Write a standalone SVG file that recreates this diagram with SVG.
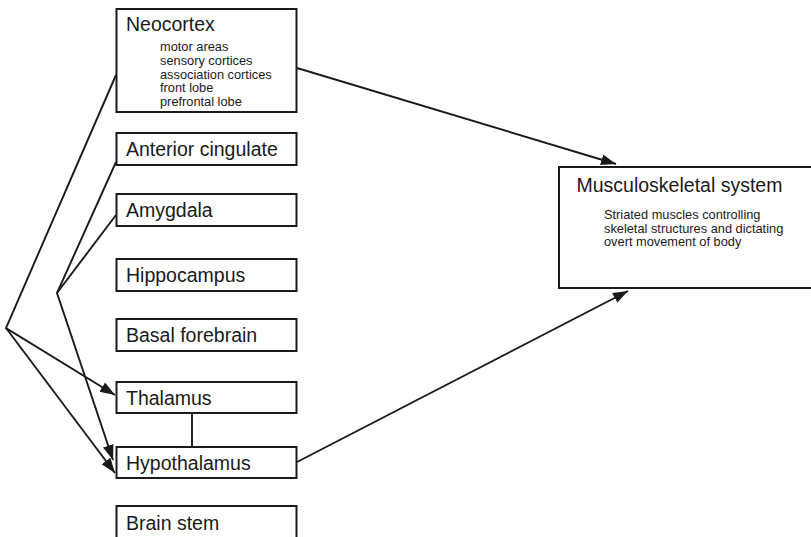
<svg xmlns="http://www.w3.org/2000/svg" width="811" height="537" viewBox="0 0 811 537">
  <style>
    .box { fill: #fff; stroke: #1a1a1a; stroke-width: 2; }
    .title { font-family: "Liberation Sans", Arial, sans-serif; font-size: 19.5px; fill: #1a1a1a; }
    .sub { font-family: "Liberation Sans", Arial, sans-serif; font-size: 12.8px; fill: #1a1a1a; }
    .link { fill: none; stroke: #1a1a1a; stroke-width: 1.9; }
  </style>
  <defs>
    <marker id="arrow" markerUnits="userSpaceOnUse" markerWidth="16" markerHeight="12" refX="15" refY="5.5" orient="auto">
      <path d="M0,0 L15,5.5 L0,11 z" fill="#1a1a1a"/>
    </marker>
  </defs>
  <rect width="811" height="537" fill="#fff"/>

  <!-- connectors -->
  <g id="connectors">
    <polyline class="link" points="116,75 6,328 115,395" marker-end="url(#arrow)"/>
    <line class="link" x1="6" y1="328" x2="115" y2="473" marker-end="url(#arrow)"/>
    <polyline class="link" points="116,162 57,293 113,460" marker-end="url(#arrow)"/>
    <line class="link" x1="116" y1="215" x2="57" y2="293"/>
    <line class="link" x1="192" y1="413" x2="192" y2="447"/>
    <line class="link" x1="297" y1="68" x2="616" y2="164" marker-end="url(#arrow)"/>
    <line class="link" x1="297" y1="462" x2="628" y2="291" marker-end="url(#arrow)"/>
  </g>

  <g id="neocortex">
    <rect class="box" x="116.5" y="9" width="180" height="103"/>
    <text class="title" x="126" y="31">Neocortex</text>
    <text class="sub" x="160" y="51">motor areas</text>
    <text class="sub" x="160" y="64.5">sensory cortices</text>
    <text class="sub" x="160" y="78.5">association cortices</text>
    <text class="sub" x="160" y="92">front lobe</text>
    <text class="sub" x="160" y="106">prefrontal lobe</text>
  </g>

  <g id="anterior-cingulate">
    <rect class="box" x="116.5" y="133" width="180" height="32"/>
    <text class="title" x="126" y="156">Anterior cingulate</text>
  </g>

  <g id="amygdala">
    <rect class="box" x="116.5" y="194" width="180" height="32"/>
    <text class="title" x="126" y="217">Amygdala</text>
  </g>

  <g id="hippocampus">
    <rect class="box" x="116.5" y="259" width="180" height="32"/>
    <text class="title" x="126" y="282">Hippocampus</text>
  </g>

  <g id="basal-forebrain">
    <rect class="box" x="116.5" y="319" width="180" height="32"/>
    <text class="title" x="126" y="342">Basal forebrain</text>
  </g>

  <g id="thalamus">
    <rect class="box" x="116.5" y="382" width="180" height="31"/>
    <text class="title" x="126" y="405">Thalamus</text>
  </g>

  <g id="hypothalamus">
    <rect class="box" x="116.5" y="447" width="180" height="31"/>
    <text class="title" x="126" y="470">Hypothalamus</text>
  </g>

  <g id="brain-stem">
    <rect class="box" x="116.5" y="506" width="180" height="40"/>
    <text class="title" x="126" y="530">Brain stem</text>
  </g>

  <g id="musculoskeletal">
    <rect class="box" x="559" y="167" width="260" height="121"/>
    <text class="title" x="576.5" y="192">Musculoskeletal system</text>
    <text class="sub" x="604" y="219">Striated muscles controlling</text>
    <text class="sub" x="604" y="232.5">skeletal structures and dictating</text>
    <text class="sub" x="604" y="246">overt movement of body</text>
  </g>
</svg>
